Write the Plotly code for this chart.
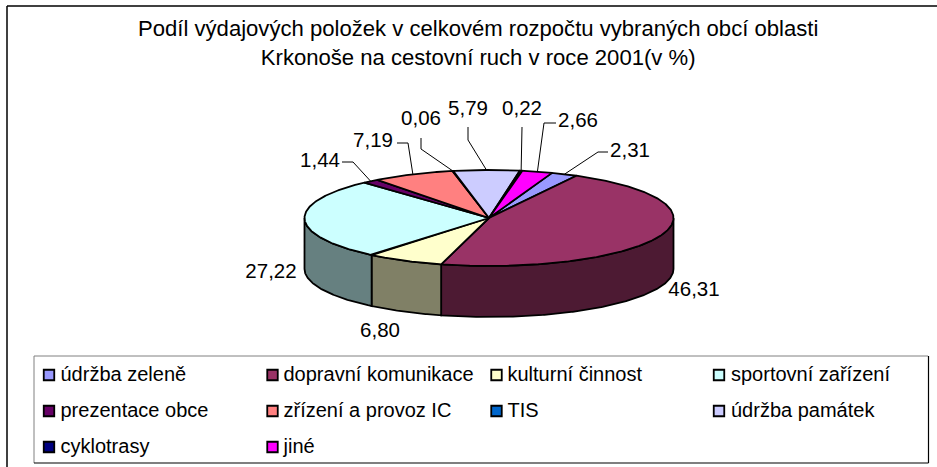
import math
import plotly.graph_objects as go

categories = ["údržba zeleně", "dopravní komunikace", "kulturní činnost", "sportovní zařízení",
              "prezentace obce", "zřízení a provoz IC", "TIS", "údržba památek", "cyklotrasy", "jiné"]
values = [2.31, 46.31, 6.80, 27.22, 1.44, 7.19, 0.06, 5.79, 0.22, 2.66]
value_labels = ["2,31", "46,31", "6,80", "27,22", "1,44", "7,19", "0,06", "5,79", "0,22", "2,66"]
top_colors = ["#9999FF", "#993366", "#FFFFCC", "#CCFFFF", "#660066", "#FF8080", "#0066CC", "#CCCCFF", "#000080", "#FF00FF"]
side_colors = ["#4D4D80", "#4D1A33", "#808066", "#668080", "#330033", "#804040", "#003366", "#666680", "#000040", "#800080"]

W, H = 937, 467
CX, CY, RX, RY, DEPTH = 489, 218, 184.5, 48, 51
START = 20.0
FONT = "Liberation Sans, Arial, sans-serif"
FS_TITLE = 22.1
FS_LEG = 20
FS_VAL = 20.5

# label anchor (centre) and leader elbow points, in page pixels
label_pos = [(630, 152), (694, 291), (380, 332), (271, 273), (320, 162), (373, 142), (421, 120), (468, 110), (522, 110), (578, 122)]
leader_bend = [[(598, 152), (608, 152)], None, None, None, [(353, 162), (342, 162)], [(408, 143), (397, 143)],
               [(421, 149), (421, 138)], [(468, 140), (468, 127)], [(522, 127)], [(544, 123), (556, 123)]]
leg_cols = [(49, 60.5), (272.5, 283.5), (496.5, 507.5), (719, 731)]
leg_rows = [375, 411, 447]


def pt(theta, drop=0.0):
    t = math.radians(theta)
    return CX + RX * math.sin(t), CY - RY * math.cos(t) + drop


def arc(a, b):
    n = max(2, int(abs(b - a) * 2))
    return [a + (b - a) * i / n for i in range(n + 1)]


fig = go.Figure()

# sweep of each slice
spans = []
cur = START
total = sum(values)
for v in values:
    spans.append((cur, cur + v / total * 360))
    cur += v / total * 360


def add_poly(pts, color, name):
    fig.add_trace(go.Scatter(x=[p[0] for p in pts], y=[p[1] for p in pts], mode="lines", fill="toself",
                             fillcolor=color, line=dict(color="black", width=1.8), hoverinfo="text", text=name,
                             showlegend=False))


# side walls
for (a, b), c, name in zip(spans, side_colors, categories):
    lo, hi = max(a, 90), min(b, 270)
    if hi <= lo:
        continue
    ths = arc(lo, hi)
    pts = [pt(t) for t in ths] + [pt(t, DEPTH) for t in reversed(ths)]
    add_poly(pts + [pts[0]], c, name)

# top faces
for (a, b), c, name in zip(spans, top_colors, categories):
    pts = [(CX, CY)] + [pt(t) for t in arc(a, b)] + [(CX, CY)]
    add_poly(pts, c, name)

# leader lines
for (a, b), bend in zip(spans, leader_bend):
    if bend is None:
        continue
    pts = [pt((a + b) / 2)] + bend
    fig.add_trace(go.Scatter(x=[p[0] for p in pts], y=[p[1] for p in pts], mode="lines",
                             line=dict(color="black", width=1), hoverinfo="skip", showlegend=False))

# value labels
fig.add_trace(go.Scatter(x=[p[0] for p in label_pos], y=[p[1] for p in label_pos], mode="text", text=value_labels,
                         textposition="middle center", textfont=dict(family=FONT, size=FS_VAL, color="black"),
                         hoverinfo="skip", showlegend=False))

# legend entries, filled column by column along rows
for i, (name, color) in enumerate(zip(categories, top_colors)):
    col = leg_cols[i % 4]
    row = leg_rows[i // 4]
    fig.add_trace(go.Scatter(x=[col[0]], y=[row], mode="markers",
                             marker=dict(symbol="square", size=10.5, color=color, line=dict(color="black", width=1.8)),
                             hoverinfo="skip", showlegend=False))
    fig.add_trace(go.Scatter(x=[col[1]], y=[row + 0.5], mode="text", text=[name], textposition="middle right",
                             textfont=dict(family=FONT, size=FS_LEG, color="black"), hoverinfo="skip", showlegend=False))

shapes = [
    dict(type="line", x0=7, y0=6, x1=W, y1=6, line=dict(color="black", width=1.5)),
    dict(type="line", x0=7, y0=6, x1=7, y1=H, line=dict(color="black", width=1.5)),
    dict(type="line", x0=34, y0=356, x1=928, y1=356, line=dict(color="#808080", width=1)),
    dict(type="line", x0=34, y0=356, x1=34, y1=463, line=dict(color="#808080", width=1)),
    dict(type="line", x0=34, y0=463, x1=928.5, y1=463, line=dict(color="black", width=1.2)),
    dict(type="line", x0=928.5, y0=356, x1=928.5, y1=463, line=dict(color="black", width=1.2)),
]
for s in shapes:
    s["xref"] = "x"
    s["yref"] = "y"
    s["layer"] = "below"

fig.update_layout(
    width=W, height=H, margin=dict(l=0, r=0, t=0, b=0, pad=0), autosize=False,
    paper_bgcolor="white", plot_bgcolor="white", showlegend=False, shapes=shapes,
    xaxis=dict(range=[0, W], visible=False, fixedrange=True),
    yaxis=dict(range=[H, 0], visible=False, fixedrange=True),
    annotations=[dict(text="Podíl výdajových položek v celkovém rozpočtu vybraných obcí oblasti<br>Krkonoše na cestovní ruch v roce 2001(v %)",
                      x=478, y=43, xref="x", yref="y", showarrow=False, xanchor="center", yanchor="middle",
                      font=dict(family=FONT, size=FS_TITLE, color="black"), align="center")],
)
fig.write_html("out.html", config={"displayModeBar": False},
               post_script="document.body.style.margin='0';document.documentElement.style.overflow='hidden';")
